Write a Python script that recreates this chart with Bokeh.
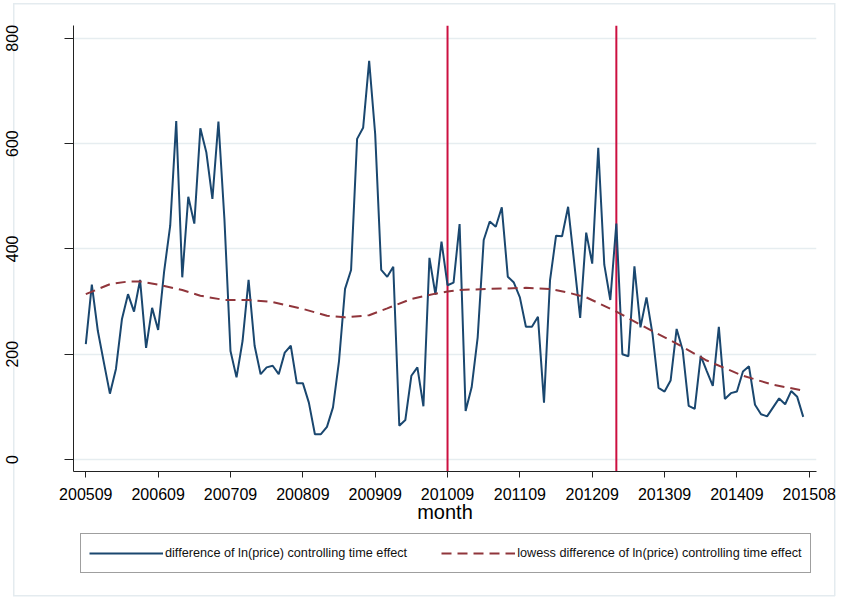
from bokeh.plotting import figure
from bokeh.layouts import column
from bokeh.models import (ColumnDataSource, Range1d, FixedTicker, Span, Legend,
                          LegendItem)
from bokeh.embed import file_html
from bokeh.resources import INLINE

# Monthly series: difference of ln(price) controlling time effect (Sep 2005 .. Aug 2015)
diff_vals = [
    219, 332, 244, 184, 125, 172, 267, 314, 281, 341,
    212, 288, 246, 358, 444, 643, 346, 499, 448, 629,
    583, 495, 642, 455, 206, 156, 225, 341, 216, 162,
    175, 178, 162, 203, 216, 145, 145, 108, 48, 48,
    62, 99, 187, 324, 360, 609, 630, 757, 618, 360,
    347, 366, 64, 75, 159, 175, 101, 383, 313, 414,
    331, 336, 447, 92, 137, 232, 417, 452, 442, 479,
    347, 336, 308, 252, 252, 271, 108, 340, 425, 424,
    480, 375, 269, 431, 372, 592, 370, 303, 448, 200,
    196, 367, 251, 308, 238, 136, 129, 150, 248, 208,
    102, 96, 197, 168, 140, 252, 115, 126, 129, 167,
    177, 104, 86, 82, 99, 116, 105, 130, 119, 81,
]
month_idx = list(range(len(diff_vals)))

# Lowess smooth of the same series
lowess_idx = [0, 4, 7, 9, 12, 16, 19, 23, 27, 31, 36, 40, 43, 47, 50, 54,
              58, 60, 62, 67, 73, 77, 80, 83, 88, 92, 98, 103, 109, 114, 119]
lowess_val = [314, 333, 338, 338, 332, 322, 311, 303, 303, 299, 286, 273, 270,
              274, 287, 305, 315, 319, 322, 324, 326, 324, 317, 308, 281, 256,
              220, 188, 159, 142, 131]

# Axis ticks
x_tick_pos = [0, 12, 24, 36, 48, 60, 72, 84, 96, 108, 120]
x_tick_labels = ["200509", "200609", "200709", "200809", "200909", "201009",
                 "201109", "201209", "201309", "201409", "201508"]
y_ticks = [0, 200, 400, 600, 800]

# Event months (201009 and 201301)
event_months = [60, 88]

FONT = "Liberation Sans"
NAVY = "#1A476F"
MAROON = "#90353B"
CRIMSON = "#CC1040"
LEGEND_LABELS = ["difference of ln(price) controlling time effect",
                 "lowess difference of ln(price) controlling time effect"]

src = ColumnDataSource(dict(x=month_idx, y=diff_vals))
lsrc = ColumnDataSource(dict(x=lowess_idx, y=lowess_val))

# ---- main plot -----------------------------------------------------------
p = figure(width=842, height=529, output_backend="svg", toolbar_location=None,
           x_range=Range1d(-2.04, 121.2), y_range=Range1d(-22.8, 824.3),
           min_border_left=73, min_border_right=26, min_border_top=25,
           min_border_bottom=58)
p.background_fill_color = None
p.border_fill_color = None
p.outline_line_color = None

p.xgrid.grid_line_color = None
p.ygrid.ticker = FixedTicker(ticks=y_ticks)
p.ygrid.grid_line_color = "#E6EDF0"
p.ygrid.grid_line_width = 1.6

p.yaxis.ticker = FixedTicker(ticks=y_ticks)
p.yaxis.major_label_orientation = "vertical"
p.yaxis.major_label_text_font = FONT
p.yaxis.major_label_text_font_size = "16px"
p.yaxis.major_label_text_color = "black"
p.yaxis.major_label_standoff = 46
p.yaxis.major_tick_out = 9
p.yaxis.major_tick_in = 0
p.yaxis.minor_tick_out = 0
p.yaxis.minor_tick_in = 0
p.yaxis.axis_line_color = "#222222"
p.yaxis.major_tick_line_color = "#222222"

p.xaxis.ticker = FixedTicker(ticks=x_tick_pos)
p.xaxis.major_label_overrides = {t: l for t, l in zip(x_tick_pos, x_tick_labels)}
p.xaxis.major_label_text_font = FONT
p.xaxis.major_label_text_font_size = "16px"
p.xaxis.major_label_text_color = "black"
p.xaxis.major_label_standoff = 10
p.xaxis.major_tick_out = 6
p.xaxis.major_tick_in = 0
p.xaxis.minor_tick_out = 0
p.xaxis.minor_tick_in = 0
p.xaxis.axis_line_color = "#222222"
p.xaxis.major_tick_line_color = "#222222"
p.xaxis.axis_label = "month"
p.xaxis.axis_label_text_font = FONT
p.xaxis.axis_label_text_font_size = "20px"
p.xaxis.axis_label_text_font_style = "normal"
p.xaxis.axis_label_text_color = "black"
p.xaxis.axis_label_standoff = -2

for m in event_months:
    p.add_layout(Span(location=m, dimension="height", line_color=CRIMSON,
                      line_width=2, level="underlay"))

p.line("x", "y", source=src, line_color=NAVY, line_width=2)
p.line("x", "y", source=lsrc, line_color=MAROON, line_width=2, line_dash="10 6")

# ---- legend strip under the plot -------------------------------------------
# Same series drawn again on a unit range, so they fall outside this strip's
# frame and only their legend samples show.
q = figure(width=842, height=70, output_backend="svg", toolbar_location=None,
           x_range=Range1d(0, 1), y_range=Range1d(0, 1),
           x_axis_location=None, y_axis_location=None,
           min_border_left=0, min_border_right=0, min_border_top=0,
           min_border_bottom=0)
q.background_fill_color = None
q.border_fill_color = None
q.outline_line_color = None
q.grid.grid_line_color = None
k1 = q.line("x", "y", source=src, line_color=NAVY, line_width=2)
k2 = q.line("x", "y", source=lsrc, line_color=MAROON, line_width=2,
            line_dash="10 6")

legend = Legend(items=[LegendItem(label=LEGEND_LABELS[0], renderers=[k1]),
                       LegendItem(label=LEGEND_LABELS[1], renderers=[k2])],
                orientation="horizontal", location=(7, 26))
legend.label_text_font = FONT
legend.label_text_font_size = "12.7px"
legend.label_text_color = "#111111"
legend.glyph_width = 74
legend.glyph_height = 22
legend.label_height = 22
legend.label_standoff = 2
legend.spacing = 34
legend.padding = 8
legend.margin = 0
legend.border_line_color = "#404040"
legend.border_line_width = 1.2
legend.background_fill_color = "white"
q.add_layout(legend)

layout = column(p, q, spacing=0)
# faint outline of the graph region, painted as CSS background lines
c = "#E4EBEF"
g = f"linear-gradient({c},{c})"
layout.styles = {
    "background-color": "white",
    "background-image": ", ".join([g] * 4),
    "background-position": "13px 3px, 13px 595px, 13px 3px, 834px 3px",
    "background-size": "822px 1.5px, 822px 1.5px, 1.5px 593px, 1.5px 593px",
    "background-repeat": "no-repeat",
}

open("out.html", "w").write(file_html(layout, INLINE))
